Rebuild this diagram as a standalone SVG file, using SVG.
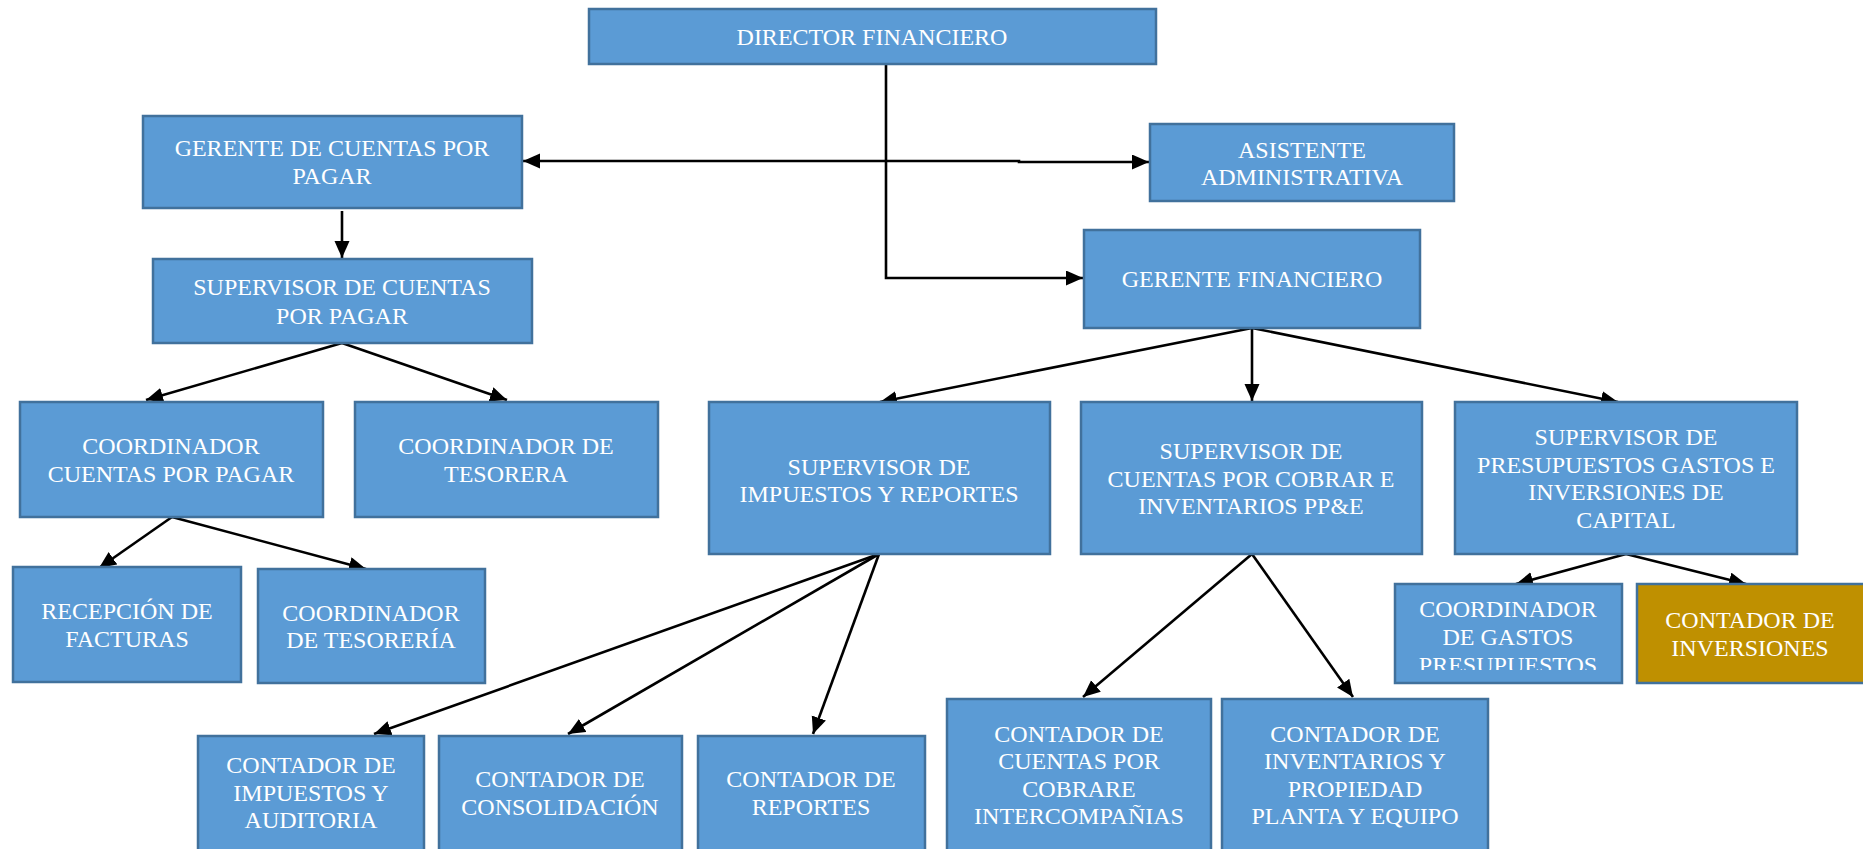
<svg xmlns="http://www.w3.org/2000/svg" width="1863" height="849" viewBox="0 0 1863 849">
<style>
.box{fill:#5B9BD5;stroke:#41719C;stroke-width:2.5}
.gold{fill:#BF9000;stroke:#41719C;stroke-width:2.5}
.t{font-family:"Liberation Serif","Times New Roman",serif;font-size:24px;fill:#FFFFFF;text-anchor:middle}
.c{fill:none;stroke:#000;stroke-width:2.6}
</style>
<defs>
<marker id="ah" markerUnits="userSpaceOnUse" markerWidth="18" markerHeight="16" refX="17" refY="7.5" orient="auto-start-reverse" viewBox="0 0 18 16">
<path d="M0,0 L17,7.5 L0,15 Z" fill="#000"/>
</marker>
<clipPath id="clipGastos"><rect x="1395" y="584" width="227" height="86"/></clipPath>
</defs>
<rect width="1863" height="849" fill="#FFFFFF"/>
<g id="connectors">
<path class="c" d="M886,64 V278 H1083" stroke-width="2.2" marker-end="url(#ah)"/>
<path class="c" d="M523,161 H1019 V162 H1149" marker-start="url(#ah)" marker-end="url(#ah)"/>
<path class="c" d="M342,211 V258" stroke-width="4" marker-end="url(#ah)"/>
<path class="c" d="M342,343 L146,400" marker-end="url(#ah)"/>
<path class="c" d="M342,343 L507,400" marker-end="url(#ah)"/>
<path class="c" d="M172,517 L99,568" marker-end="url(#ah)"/>
<path class="c" d="M172,517 L366,569" marker-end="url(#ah)"/>
<path class="c" d="M1252,328 L880,402" marker-end="url(#ah)"/>
<path class="c" d="M1252,328 L1252,401" marker-end="url(#ah)"/>
<path class="c" d="M1252,328 L1618,402" marker-end="url(#ah)"/>
<path class="c" d="M879,554 L374,734" marker-end="url(#ah)"/>
<path class="c" d="M879,554 L568,734" marker-end="url(#ah)"/>
<path class="c" d="M879,554 L813,734" marker-end="url(#ah)"/>
<path class="c" d="M1252,554 L1083,697" marker-end="url(#ah)"/>
<path class="c" d="M1252,554 L1353,697" marker-end="url(#ah)"/>
<path class="c" d="M1626,554 L1516,584" marker-end="url(#ah)"/>
<path class="c" d="M1626,554 L1746,584" marker-end="url(#ah)"/>
</g>
<g id="n1"><rect class="box" x="589" y="9" width="567" height="55"/><text class="t" x="872" y="45">DIRECTOR FINANCIERO</text></g>
<g id="n2"><rect class="box" x="143" y="116" width="379" height="92"/><text class="t" x="332" y="156">GERENTE DE CUENTAS POR</text><text class="t" x="332" y="184">PAGAR</text></g>
<g id="n3"><rect class="box" x="1150" y="124" width="304" height="77"/><text class="t" x="1302" y="158">ASISTENTE</text><text class="t" x="1302" y="185">ADMINISTRATIVA</text></g>
<g id="n4"><rect class="box" x="1084" y="230" width="336" height="98"/><text class="t" x="1252" y="287">GERENTE FINANCIERO</text></g>
<g id="n5"><rect class="box" x="153" y="259" width="379" height="84"/><text class="t" x="342" y="295">SUPERVISOR DE CUENTAS</text><text class="t" x="342" y="324">POR PAGAR</text></g>
<g id="n6"><rect class="box" x="20" y="402" width="303" height="115"/><text class="t" x="171" y="454">COORDINADOR</text><text class="t" x="171" y="482">CUENTAS POR PAGAR</text></g>
<g id="n7"><rect class="box" x="355" y="402" width="303" height="115"/><text class="t" x="506" y="454">COORDINADOR DE</text><text class="t" x="506" y="482">TESORERA</text></g>
<g id="n8"><rect class="box" x="13" y="567" width="228" height="115"/><text class="t" x="127" y="619">RECEPCIÓN DE</text><text class="t" x="127" y="647">FACTURAS</text></g>
<g id="n9"><rect class="box" x="258" y="569" width="227" height="114"/><text class="t" x="371" y="621">COORDINADOR</text><text class="t" x="371" y="648">DE TESORERÍA</text></g>
<g id="n10"><rect class="box" x="709" y="402" width="341" height="152"/><text class="t" x="879" y="475">SUPERVISOR DE</text><text class="t" x="879" y="502">IMPUESTOS Y REPORTES</text></g>
<g id="n11"><rect class="box" x="1081" y="402" width="341" height="152"/><text class="t" x="1251" y="459">SUPERVISOR DE</text><text class="t" x="1251" y="487">CUENTAS POR COBRAR E</text><text class="t" x="1251" y="514">INVENTARIOS PP&amp;E</text></g>
<g id="n12"><rect class="box" x="1455" y="402" width="342" height="152"/><text class="t" x="1626" y="445">SUPERVISOR DE</text><text class="t" x="1626" y="473">PRESUPUESTOS GASTOS E</text><text class="t" x="1626" y="500">INVERSIONES DE</text><text class="t" x="1626" y="528">CAPITAL</text></g>
<g id="n13"><rect class="box" x="1395" y="584" width="227" height="99"/><g clip-path="url(#clipGastos)"><text class="t" x="1508" y="617">COORDINADOR</text><text class="t" x="1508" y="645">DE GASTOS</text><text class="t" x="1508" y="673">PRESUPUESTOS</text></g></g>
<g id="n14"><rect class="gold" x="1637" y="584" width="230" height="99"/><text class="t" x="1750" y="628">CONTADOR DE</text><text class="t" x="1750" y="656">INVERSIONES</text></g>
<g id="n15"><rect class="box" x="198" y="736" width="226" height="120"/><text class="t" x="311" y="773">CONTADOR DE</text><text class="t" x="311" y="801">IMPUESTOS Y</text><text class="t" x="311" y="828">AUDITORIA</text></g>
<g id="n16"><rect class="box" x="439" y="736" width="243" height="120"/><text class="t" x="560" y="787">CONTADOR DE</text><text class="t" x="560" y="815">CONSOLIDACIÓN</text></g>
<g id="n17"><rect class="box" x="698" y="736" width="227" height="120"/><text class="t" x="811" y="787">CONTADOR DE</text><text class="t" x="811" y="815">REPORTES</text></g>
<g id="n18"><rect class="box" x="947" y="699" width="264" height="160"/><text class="t" x="1079" y="742">CONTADOR DE</text><text class="t" x="1079" y="769">CUENTAS POR</text><text class="t" x="1079" y="797">COBRARE</text><text class="t" x="1079" y="824">INTERCOMPAÑIAS</text></g>
<g id="n19"><rect class="box" x="1222" y="699" width="266" height="160"/><text class="t" x="1355" y="742">CONTADOR DE</text><text class="t" x="1355" y="769">INVENTARIOS Y</text><text class="t" x="1355" y="797">PROPIEDAD</text><text class="t" x="1355" y="824">PLANTA Y EQUIPO</text></g>
</svg>
